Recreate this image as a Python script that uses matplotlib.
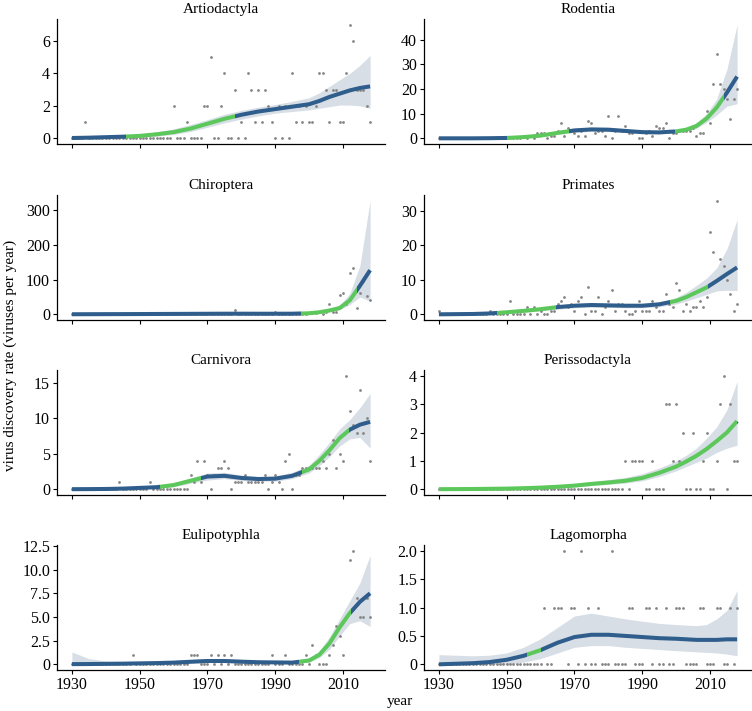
import numpy as np
import matplotlib.pyplot as plt
import matplotlib.transforms as mtransforms
from matplotlib.patches import Rectangle

plt.rcParams['font.family'] = ['Liberation Serif', 'DejaVu Serif']
plt.rcParams['font.size'] = 11

# yearly counts of newly discovered viruses, 1930-2018
years = list(range(1930, 2019))

artiodactyla = [0, 0, 0, 0, 1, 0, 0, 0, 0, 0,
                0, 0, 0, 0, 0, 0, 0, 0, 0, 0,
                0, 0, 0, 0, 0, 0, 0, 0, 0, 0,
                2, 0, 0, 0, 1, 0, 0, 0, 0, 2,
                2, 5, 0, 0, 2, 4, 0, 0, 3, 0,
                1, 0, 4, 3, 1, 3, 1, 3, 2, 1,
                0, 2, 0, 2, 0, 4, 1, 2, 1, 2,
                1, 1, 2, 4, 4, 3, 1, 3, 3, 1,
                1, 4, 7, 6, 3, 3, 3, 2, 1]
rodentia = [0, 0, 0, 0, 0, 0, 0, 0, 0, 0,
            0, 0, 0, 0, 0, 0, 0, 0, 0, 0,
            0, 0, 0, 0, 0, 1, 0, 1, 0, 2,
            2, 2, 0, 1, 1, 3, 6, 1, 4, 3,
            2, 1, 3, 1, 7, 6, 2, 3, 3, 1,
            9, 0, 3, 9, 3, 5, 2, 2, 3, 0,
            0, 2, 3, 1, 5, 4, 4, 6, 0, 2,
            2, 3, 3, 3, 3, 4, 1, 2, 2, 11,
            6, 22, 34, 22, 20, 16, 8, 16, 20]
chiroptera = [0, 0, 0, 0, 0, 0, 0, 0, 0, 0,
              0, 0, 0, 0, 0, 0, 0, 0, 0, 0,
              0, 0, 0, 0, 0, 0, 0, 3, 0, 0,
              0, 0, 2, 0, 0, 0, 0, 0, 0, 0,
              0, 0, 0, 0, 0, 0, 0, 0, 12, 0,
              0, 0, 0, 0, 0, 0, 0, 0, 0, 0,
              8, 0, 0, 0, 0, 0, 0, 0, 0, 2,
              3, 5, 4, 7, 2, 8, 29, 7, 7, 57,
              60, 31, 118, 134, 18, 60, 95, 53, 40]
primates = [1, 0, 0, 0, 0, 0, 0, 0, 0, 0,
            0, 0, 0, 0, 0, 1, 0, 0, 0, 0,
            0, 4, 0, 0, 0, 0, 2, 0, 2, 0,
            1, 0, 0, 1, 1, 3, 4, 5, 2, 3,
            1, 4, 5, 0, 8, 1, 1, 5, 0, 2,
            4, 7, 1, 3, 3, 1, 0, 0, 1, 4,
            1, 1, 1, 4, 2, 1, 1, 6, 3, 2,
            9, 7, 1, 3, 1, 2, 2, 4, 2, 5,
            24, 18, 33, 16, 14, 10, 6, 1, 3]
carnivora = [0, 0, 0, 0, 0, 0, 0, 0, 0, 0,
             0, 0, 0, 0, 1, 0, 0, 0, 0, 0,
             0, 0, 0, 1, 0, 0, 0, 0, 0, 0,
             0, 0, 0, 0, 0, 2, 1, 4, 1, 4,
             2, 0, 2, 3, 3, 4, 3, 0, 1, 1,
             1, 2, 1, 1, 1, 1, 1, 2, 0, 1,
             2, 1, 0, 4, 5, 0, 2, 2, 3, 3,
             3, 3, 3, 3, 4, 3, 5, 7, 3, 5,
             4, 16, 11, 9, 8, 14, 8, 10, 4]
perissodactyla = [0, 0, 0, 0, 0, 0, 0, 0, 0, 0,
                  0, 0, 0, 0, 0, 0, 0, 0, 0, 0,
                  0, 0, 0, 0, 0, 0, 0, 0, 0, 0,
                  0, 0, 0, 0, 0, 0, 0, 0, 0, 0,
                  0, 0, 0, 0, 0, 0, 0, 0, 0, 0,
                  0, 0, 0, 0, 0, 1, 0, 1, 1, 1,
                  1, 0, 0, 1, 0, 0, 0, 3, 3, 1,
                  3, 1, 2, 0, 0, 2, 0, 0, 1, 2,
                  0, 0, 1, 3, 4, 0, 3, 1, 1]
eulipotyphla = [0, 0, 0, 0, 0, 0, 0, 0, 0, 0,
                0, 0, 0, 0, 0, 0, 0, 0, 1, 0,
                0, 0, 0, 0, 0, 0, 0, 0, 0, 0,
                0, 0, 0, 0, 0, 1, 1, 1, 0, 0,
                0, 1, 0, 1, 0, 1, 0, 1, 0, 0,
                0, 0, 0, 0, 0, 0, 0, 0, 0, 1,
                0, 0, 0, 1, 0, 0, 0, 0, 0, 1,
                0, 2, 1, 0, 0, 0, 1, 2, 4, 3,
                1, 5, 11, 12, 7, 5, 5, 7, 5]
lagomorpha = [0, 0, 0, 0, 0, 0, 0, 0, 0, 0,
              0, 0, 0, 0, 0, 0, 0, 0, 0, 0,
              0, 0, 0, 0, 0, 0, 0, 0, 0, 0,
              0, 1, 0, 0, 1, 1, 1, 2, 0, 1,
              1, 0, 2, 0, 1, 0, 0, 1, 0, 0,
              0, 2, 0, 0, 0, 0, 1, 1, 0, 0,
              0, 1, 1, 0, 1, 0, 0, 1, 0, 0,
              1, 1, 1, 0, 0, 0, 0, 1, 1, 0,
              0, 0, 1, 1, 0, 0, 1, 0, 1]

# smoothed rate with its confidence band
fit_years = [1930, 1935, 1940, 1945, 1950, 1955, 1960, 1965, 1970, 1975, 1980,
             1985, 1990, 1995, 2000, 2003, 2006, 2009, 2012, 2015, 2018]

artio_fit = [0.02, 0.04, 0.07, 0.1, 0.15, 0.25, 0.38, 0.6, 0.9, 1.2, 1.45,
             1.65, 1.8, 1.95, 2.1, 2.3, 2.55, 2.75, 2.95, 3.1, 3.2]
artio_lo = [0, 0, 0, 0.02, 0.06, 0.13, 0.24, 0.42, 0.68, 0.95, 1.18,
            1.38, 1.55, 1.65, 1.75, 1.85, 1.95, 2.05, 2.05, 2.0, 1.85]
artio_hi = [0.12, 0.12, 0.13, 0.16, 0.25, 0.4, 0.58, 0.85, 1.15, 1.48, 1.72,
            1.92, 2.08, 2.28, 2.5, 2.8, 3.2, 3.6, 4.0, 4.5, 5.1]

roden_fit = [0, 0, 0, 0.05, 0.15, 0.5, 1.1, 2.2, 3.2, 3.6, 3.5,
             3.0, 2.5, 2.4, 2.8, 3.5, 5.0, 8.0, 12.5, 18.5, 25]
roden_lo = [0, 0, 0, 0, 0, 0.2, 0.6, 1.5, 2.4, 2.8, 2.7,
            2.3, 1.9, 1.8, 2.2, 2.8, 4.0, 6.5, 9.5, 13, 14]
roden_hi = [0.2, 0.2, 0.2, 0.2, 0.4, 0.9, 1.6, 2.9, 4.0, 4.5, 4.3,
            3.7, 3.1, 3.0, 3.4, 4.3, 6.2, 10, 16, 28, 46]

chiro_fit = [0.2, 0.3, 0.5, 0.6, 0.8, 1.0, 1.2, 1.4, 1.6, 1.8, 1.8,
             1.7, 1.7, 1.8, 3, 6, 11, 18, 40, 82, 127]
chiro_lo = [0, 0, 0, 0, 0, 0, 0.2, 0.4, 0.6, 0.8, 0.8,
            0.7, 0.7, 0.8, 2, 4, 8, 13, 28, 50, 38]
chiro_hi = [2, 2, 2, 2, 2, 2.2, 2.4, 2.6, 2.8, 3, 3,
            2.9, 2.9, 3, 4, 9, 16, 26, 60, 140, 327]

prim_fit = [0, 0.05, 0.1, 0.25, 0.6, 1.0, 1.5, 2.1, 2.5, 2.7, 2.6,
            2.5, 2.5, 2.9, 3.9, 5.0, 6.4, 7.8, 9.7, 11.7, 13.6]
prim_lo = [0, 0, 0, 0.05, 0.3, 0.6, 1.0, 1.5, 1.9, 2.1, 2.0,
           1.9, 1.9, 2.2, 3.0, 3.8, 4.8, 5.8, 6.8, 7.0, 6.9]
prim_hi = [0.3, 0.3, 0.4, 0.6, 0.9, 1.4, 2.0, 2.7, 3.1, 3.3, 3.2,
           3.1, 3.1, 3.6, 4.9, 6.4, 8.4, 10.5, 13.5, 19, 27.5]

carn_fit = [0.02, 0.03, 0.05, 0.1, 0.2, 0.3, 0.6, 1.2, 1.8, 1.9, 1.6,
            1.45, 1.5, 1.9, 2.8, 4.0, 5.5, 7.2, 8.4, 9.1, 9.5]
carn_lo = [0, 0, 0, 0.02, 0.08, 0.15, 0.35, 0.85, 1.3, 1.5, 1.25,
           1.15, 1.15, 1.5, 2.3, 3.3, 4.6, 6.1, 7.1, 7.3, 5.8]
carn_hi = [0.1, 0.1, 0.12, 0.2, 0.32, 0.5, 0.9, 1.6, 2.3, 2.4, 2.0,
           1.8, 1.9, 2.4, 3.4, 4.9, 6.6, 8.5, 9.8, 11.5, 13.5]

peri_fit = [0.005, 0.008, 0.012, 0.018, 0.025, 0.04, 0.06, 0.09, 0.13, 0.19, 0.24,
            0.3, 0.4, 0.58, 0.8, 0.98, 1.18, 1.42, 1.7, 2.0, 2.4]
peri_lo = [0.002, 0.004, 0.006, 0.01, 0.015, 0.025, 0.04, 0.06, 0.09, 0.13, 0.17,
           0.22, 0.3, 0.45, 0.65, 0.8, 0.95, 1.1, 1.3, 1.45, 1.55]
peri_hi = [0.01, 0.015, 0.02, 0.03, 0.04, 0.065, 0.1, 0.14, 0.2, 0.27, 0.34,
           0.42, 0.55, 0.75, 1.0, 1.2, 1.45, 1.8, 2.2, 2.8, 3.8]

euli_fit = [0.02, 0.03, 0.05, 0.07, 0.1, 0.13, 0.18, 0.27, 0.35, 0.35, 0.28,
            0.22, 0.2, 0.18, 0.4, 1.0, 2.2, 3.9, 5.4, 6.6, 7.5]
euli_lo = [0, 0, 0, 0.01, 0.03, 0.05, 0.08, 0.14, 0.2, 0.2, 0.15,
           0.1, 0.1, 0.1, 0.25, 0.7, 1.6, 3.0, 4.3, 4.6, 4.0]
euli_hi = [1.3, 0.6, 0.35, 0.3, 0.3, 0.35, 0.4, 0.5, 0.6, 0.6, 0.5,
           0.4, 0.38, 0.38, 0.7, 1.4, 2.9, 4.8, 6.7, 8.6, 11.5]

lago_fit = [0.0, 0.01, 0.02, 0.04, 0.08, 0.15, 0.25, 0.38, 0.48, 0.52, 0.52,
            0.5, 0.48, 0.46, 0.45, 0.44, 0.43, 0.43, 0.43, 0.44, 0.44]
lago_lo = [0, 0, 0, 0, 0.0, 0.04, 0.1, 0.2, 0.3, 0.33, 0.33,
           0.3, 0.28, 0.26, 0.24, 0.23, 0.22, 0.21, 0.2, 0.18, 0.15]
lago_hi = [0.17, 0.16, 0.15, 0.16, 0.2, 0.3, 0.45, 0.65, 0.85, 0.9, 0.85,
           0.8, 0.76, 0.72, 0.7, 0.69, 0.68, 0.7, 0.8, 0.95, 1.3]

# periods where the rate is significantly increasing
artio_green = [(1946, 1978)]
roden_green = [(1950, 1968.4), (1999.8, 2014.1)]
chiro_green = [(1997.5, 2014.2)]
prim_green = [(1947, 1964.7), (1998.1, 2009.4)]
carn_green = [(1955.9, 1968), (1997.8, 2011.8)]
peri_green = [(1930, 2018)]
euli_green = [(1996.9, 2012.5)]
lago_green = [(1956, 1960.2)]

artio_ticks = [0, 2, 4, 6]
roden_ticks = [0, 10, 20, 30, 40]
chiro_ticks = [0, 100, 200, 300]
prim_ticks = [0, 10, 20, 30]
carn_ticks = [0, 5, 10, 15]
peri_ticks = [0, 1, 2, 3, 4]
euli_ticks = [0, 2.5, 5, 7.5, 10, 12.5]
lago_ticks = [0, 0.5, 1, 1.5, 2]
x_ticks = [1930, 1950, 1970, 1990, 2010]

panels = [
    ('Artiodactyla', artiodactyla, artio_fit, artio_lo, artio_hi, artio_green, artio_ticks),
    ('Rodentia', rodentia, roden_fit, roden_lo, roden_hi, roden_green, roden_ticks),
    ('Chiroptera', chiroptera, chiro_fit, chiro_lo, chiro_hi, chiro_green, chiro_ticks),
    ('Primates', primates, prim_fit, prim_lo, prim_hi, prim_green, prim_ticks),
    ('Carnivora', carnivora, carn_fit, carn_lo, carn_hi, carn_green, carn_ticks),
    ('Perissodactyla', perissodactyla, peri_fit, peri_lo, peri_hi, peri_green, peri_ticks),
    ('Eulipotyphla', eulipotyphla, euli_fit, euli_lo, euli_hi, euli_green, euli_ticks),
    ('Lagomorpha', lagomorpha, lago_fit, lago_lo, lago_hi, lago_green, lago_ticks),
]

blue = '#2f5d8c'
green = '#5cc75a'
band = '#d7dee6'
LW = 2.9

W, H = 752, 711
fig = plt.figure(figsize=(W / 100, H / 100), dpi=100)

col_left = [57, 424]
row_top = [19, 195, 370, 545]
ax_w, ax_h = 328, 125


def blue_spans(greens):
    # the parts of the curve that are not green
    spans, start = [], 1900
    for g0, g1 in greens:
        if g0 > start:
            spans.append((start, g0))
        start = g1
    spans.append((start, 2100))
    return spans


for i, (name, counts, fit, lo, hi, greens, yt) in enumerate(panels):
    r, c = divmod(i, 2)
    left = col_left[c] / W
    bottom = 1 - (row_top[r] + ax_h) / H
    ax = fig.add_axes([left, bottom, ax_w / W, ax_h / H])

    ax.fill_between(fit_years, lo, hi, color=band, lw=0, zorder=1)
    ax.scatter(years, counts, s=4, color='#858585', lw=0, zorder=2)
    trans = mtransforms.blended_transform_factory(ax.transData, ax.transAxes)
    for spans, col in [(blue_spans(greens), blue), (greens, green)]:
        for g0, g1 in spans:
            ln, = ax.plot(fit_years, fit, color=col, lw=LW, solid_capstyle='butt', zorder=3)
            ln.set_clip_path(Rectangle((g0, -1), g1 - g0, 3, transform=trans))

    ax.margins(x=0.05, y=0.05)
    ax.set_title(name, fontsize=11, pad=4)
    for s in ['top', 'right']:
        ax.spines[s].set_visible(False)
    for s in ['left', 'bottom']:
        ax.spines[s].set_linewidth(0.9)
    ax.tick_params(direction='out', length=2.75, width=0.8, pad=2.2, labelsize=11.5)
    ax.set_xticks(x_ticks)
    if r == 3:
        ax.set_xticklabels([str(t) for t in x_ticks])
    else:
        ax.set_xticklabels([])
    has_frac = any(t != int(t) for t in yt)
    ax.set_yticks(yt)
    ax.set_yticklabels(['0' if t == 0 else ('%.1f' % t if has_frac else str(t)) for t in yt])

fig.text(10 / W, 1 - 355 / H, 'virus discovery rate (viruses per year)',
         rotation=90, ha='center', va='center', fontsize=11)
fig.text(400 / W, 1 - 702 / H, 'year', ha='center', va='center', fontsize=11)

fig.savefig('out.png', dpi=100)
